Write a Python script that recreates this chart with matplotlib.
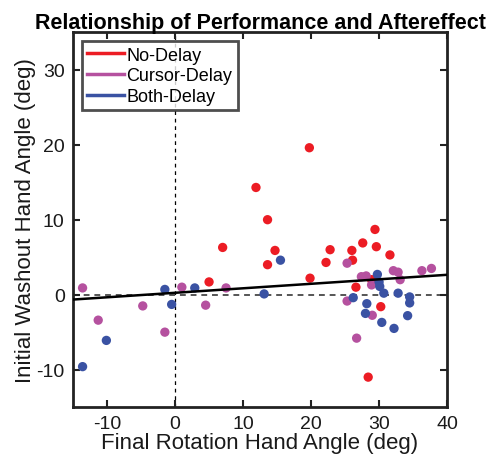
import matplotlib
matplotlib.use('Agg')
import matplotlib.pyplot as plt
from matplotlib.lines import Line2D

plt.rcParams['font.family'] = ['Liberation Sans', 'DejaVu Sans']
plt.rcParams['axes.unicode_minus'] = False

# final rotation hand angle (x) vs initial washout hand angle (y), per group
no_delay_x = [5.0, 7.0, 11.9, 13.6, 13.6, 14.7, 19.75, 19.85, 22.2, 22.8,
              26.0, 26.1, 27.6, 29.4, 29.6, 31.6, 28.9, 26.6, 30.25, 28.4]
no_delay_y = [1.7, 6.3, 14.3, 10.0, 4.0, 5.9, 19.6, 2.2, 4.3, 6.0,
              5.9, 4.6, 6.9, 8.7, 6.4, 5.3, 2.0, 1.0, -1.6, -11.0]

cursor_x = [-13.6, -11.3, -4.75, -1.5, 1.0, 4.5, 7.5, 25.3, 27.4, 28.1,
            28.9, 32.1, 32.8, 33.1, 36.3, 37.7, 25.3, 29.0, 26.7]
cursor_y = [0.9, -3.4, -1.5, -5.0, 1.0, -1.4, 0.9, 4.2, 2.4, 2.5,
            1.3, 3.2, 3.0, 2.0, 3.2, 3.5, -0.85, -2.75, -5.8]

both_x = [-13.6, -10.1, -1.5, -0.5, 2.9, 13.1, 15.5, 29.75, 30.0, 30.1,
          30.7, 32.8, 34.5, 34.5, 26.2, 28.2, 28.0, 34.2, 30.4, 32.2]
both_y = [-9.6, -6.1, 0.7, -1.3, 0.9, 0.1, 4.6, 2.7, 1.7, 1.1,
          0.2, 0.2, -0.3, -1.1, -0.4, -1.2, -2.5, -2.8, -3.7, -4.5]

fit_slope = 0.06
fit_intercept = 0.25

red = '#ec1c24'
magenta = '#b5519f'
blue = '#3a52a3'

fig = plt.figure(figsize=(4.87, 4.56), dpi=100)
ax = fig.add_axes([0.150, 0.105, 0.768, 0.822])

ax.axvline(0, color='black', linestyle=(0, (3, 3)), linewidth=0.9, zorder=1)
ax.axhline(0, color='#555555', linestyle=(0, (3, 2.5)), linewidth=1.4, zorder=1)

ax.scatter(no_delay_x, no_delay_y, s=45, color=red, edgecolors='none', zorder=2)
ax.scatter(cursor_x, cursor_y, s=45, color=magenta, edgecolors='none', zorder=3)
ax.scatter(both_x, both_y, s=45, color=blue, edgecolors='none', zorder=4)

xs = [-15, 40]
ax.plot(xs, [fit_slope * v + fit_intercept for v in xs], color='black', linewidth=1.8, zorder=5)

ax.set_xlim(-15, 40)
ax.set_ylim(-15, 35)
ax.set_xticks([-10, 0, 10, 20, 30, 40])
ax.set_yticks([-10, 0, 10, 20, 30])
ax.tick_params(direction='in', top=True, right=True, length=5, width=1.5,
               labelsize=14, pad=6, colors='#222222', labelcolor='#1a1a1a')
for sp in ax.spines.values():
    sp.set_linewidth(2)
    sp.set_color('#222222')

ax.set_xlabel('Final Rotation Hand Angle (deg)', fontsize=16, labelpad=0, color='#1a1a1a')
ax.set_ylabel('Initial Washout Hand Angle (deg)', fontsize=16, labelpad=0, color='#1a1a1a')
ax.set_title('Relationship of Performance and Aftereffect', fontsize=15.5,
             fontweight='bold', pad=3)

handles = [Line2D([], [], color=red, linewidth=2.5),
           Line2D([], [], color=magenta, linewidth=2.5),
           Line2D([], [], color=blue, linewidth=2.5)]
leg = ax.legend(handles, ['No-Delay', 'Cursor-Delay', 'Both-Delay'],
                loc='upper left', fontsize=13, frameon=True, fancybox=False,
                handlelength=2.0, handletextpad=0.15, labelspacing=0.2,
                borderpad=0.3, borderaxespad=0.5)
leg.get_frame().set_edgecolor('#222222')
leg.get_frame().set_linewidth(2)

fig.savefig('out.png', dpi=100)
